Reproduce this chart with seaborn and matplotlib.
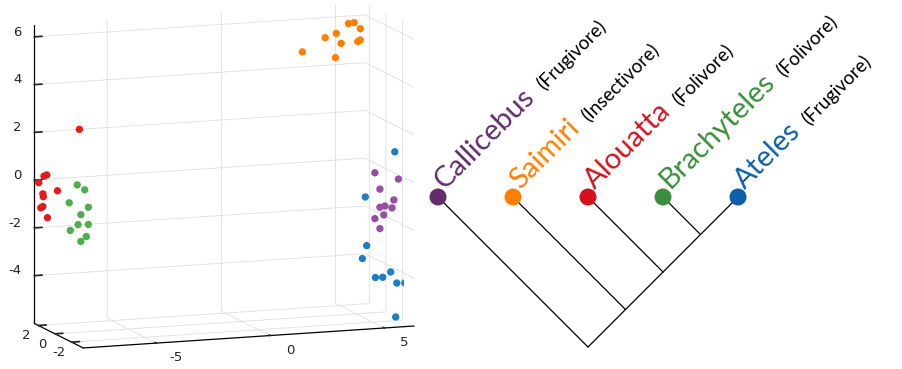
import matplotlib
matplotlib.use('Agg')
import numpy as np
import pandas as pd
import matplotlib.pyplot as plt
import seaborn as sns
from mpl_toolkits.mplot3d import proj3d

# Sample scores on the three components, one group per genus
alouatta_x = [-6.33, -7.76, -7.88, -8.11, -7.29, -7.93, -7.91, -7.93, -8.02, -7.73]
alouatta_y = [2.2] * 10
alouatta_z = [2.06, 0.24, 0.20, -0.06, -0.45, -0.54, -0.66, -1.07, -1.12, -1.55]

brachyteles_x = [-6.79, -6.46, -7.14, -6.30, -6.63, -6.75, -6.30, -7.09, -6.39, -6.63]
brachyteles_y = [1.2] * 10
brachyteles_z = [-0.06, -0.29, -0.79, -1.03, -1.32, -1.73, -1.75, -1.95, -2.25, -2.44]

saimiri_x = [2.82, 3.82, 4.31, 4.52, 4.27, 4.84, 5.09, 5.36, 5.25, 5.36]
saimiri_y = [0.5] * 10
saimiri_z = [5.02, 5.55, 5.70, 5.27, 4.69, 6.08, 6.10, 5.83, 5.30, 5.36]

callicebus_x = [5.09, 6.12, 5.31, 5.92, 5.31, 5.53, 5.84, 5.48, 5.09, 5.31]
callicebus_y = [-2.0] * 10
callicebus_z = [0.25, -0.08, -0.45, -0.94, -1.21, -1.17, -1.27, -1.54, -1.67, -2.10]

ateles_x = [5.67, 4.38, 4.44, 4.25, 5.49, 4.82, 5.14, 5.76, 6.11, 5.71]
ateles_y = [-2.8] * 10
ateles_z = [1.23, -0.58, -2.62, -3.15, -3.79, -3.98, -3.99, -4.27, -4.29, -5.69]

# Axis limits and ticks of the 3D panel
x_lim = (-8.2, 6.3)
y_lim = (-3.4, 2.5)
z_lim = (-6.0, 6.5)
x_ticks = [-5, 0, 5]
y_ticks = [-2, 0, 2]
z_ticks = [-4, -2, 0, 2, 4, 6]

# Scatter colours
scatter_colors = {
    'Alouatta': '#e41a1c',
    'Brachyteles': '#4daf4a',
    'Saimiri': '#ff7f00',
    'Callicebus': '#984ea3',
    'Ateles': '#1a7fc8',
}

# Cladogram: tip order, diets, colours and nested topology (tip indexes)
genera = ['Callicebus', 'Saimiri', 'Alouatta', 'Brachyteles', 'Ateles']
diets = ['(Frugivore)', '(Insectivore)', '(Folivore)', '(Folivore)', '(Frugivore)']
tip_colors = ['#632c6c', '#ff8000', '#d5121b', '#3b8e3b', '#0b5fa8']
tree = (0, (1, (2, (3, 4))))

sns.set_theme(style='white')
plt.rcParams['axes.unicode_minus'] = False
plt.rcParams['font.family'] = ['DejaVu Sans']

fig = plt.figure(figsize=(9.02, 3.69), dpi=100)

# ---- 3D scatter ----
ax3d = fig.add_axes([0.008, 0.011, 0.47, 1.0], projection='3d')
ax3d.set_facecolor('none')
ax3d.set_proj_type('ortho')
ax3d.view_init(elev=10.5, azim=-110)

groups = [
    ('Alouatta', alouatta_x, alouatta_y, alouatta_z),
    ('Brachyteles', brachyteles_x, brachyteles_y, brachyteles_z),
    ('Saimiri', saimiri_x, saimiri_y, saimiri_z),
    ('Callicebus', callicebus_x, callicebus_y, callicebus_z),
    ('Ateles', ateles_x, ateles_y, ateles_z),
]
for name, gx, gy, gz in groups:
    ax3d.scatter(gx, gy, gz, color=scatter_colors[name], s=28,
                 depthshade=False, edgecolors='none')

ax3d.set_xlim(*x_lim)
ax3d.set_ylim(*y_lim)
ax3d.set_zlim(*z_lim)
ax3d.set_box_aspect((x_lim[1] - x_lim[0], y_lim[1] - y_lim[0],
                     z_lim[1] - z_lim[0]), zoom=1.28)
ax3d.set_xticks(x_ticks)
ax3d.set_yticks(y_ticks)
ax3d.set_zticks(z_ticks)
for axis in (ax3d.xaxis, ax3d.yaxis, ax3d.zaxis):
    axis.set_tick_params(label1On=False, label2On=False)
    axis.label.set_visible(False)
    axis.get_offset_text().set_visible(False)
    axis.set_pane_color((1, 1, 1, 0))
    axis.pane.set_edgecolor('none')
    axis._axinfo['grid'].update(color='#dcdfe3', linewidth=0.6)
    axis._axinfo['tick'].update(inward_factor=0.0, outward_factor=0.3)
    axis.line.set_color('black')
    axis.line.set_linewidth(0.9)

# Tick labels offset along the neighbouring axis, MATLAB style:
# projected once with the axes' own matrix, then drawn as 2D text
fig.canvas.draw()
label_kw = dict(fontsize=9.5, color='#222222', va='center')


def tick_label(x, y, z, text, ha):
    px, py, _ = proj3d.proj_transform(x, y, z, ax3d.M)
    ax3d.text2D(px, py, text, transform=ax3d.transData, ha=ha, **label_kw)


for xt in x_ticks:
    tick_label(xt, y_lim[0] - 2.4, z_lim[0] - 0.2, str(xt), 'center')
for yt in y_ticks:
    tick_label(x_lim[0] - 0.55, yt, z_lim[0] - 0.4, str(yt), 'center')
for zt in z_ticks:
    tick_label(x_lim[0] - 0.1, y_lim[1] + 1.2, zt, str(zt), 'right')

# ---- Cladogram ----
ax = fig.add_axes([363 / 902, 7 / 369, 450 / 902, 330 / 369])
ax.set_xlim(-1, 5)
ax.set_ylim(-2.2, 2.2)
ax.axis('off')


def draw_clade(node):
    """Draws the branches below a node and returns (position, span)."""
    if isinstance(node, int):
        return (node, 0.0), (node, node)
    spans = []
    points = []
    for child in node:
        p, s = draw_clade(child)
        points.append(p)
        spans.append(s)
    lo, hi = spans[0][0], spans[-1][1]
    pos = ((lo + hi) / 2, -(hi - lo) / 2)
    for p in points:
        ax.plot([p[0], pos[0]], [p[1], pos[1]], color='black', lw=0.9,
                solid_capstyle='round', zorder=1)
    return pos, (lo, hi)


draw_clade(tree)

tips = pd.DataFrame({'genus': genera, 'x': range(len(genera)), 'y': 0.0})
sns.scatterplot(data=tips, x='x', y='y', hue='genus', palette=tip_colors,
                s=150, edgecolor='none', legend=False, ax=ax, zorder=3,
                clip_on=False)
ax.set_xlabel('')
ax.set_ylabel('')

# Rotated labels: genus name then diet
renderer = fig.canvas.get_renderer()
c45 = np.cos(np.pi / 4)
start = 10
gap = 10
for i, (genus, diet, col) in enumerate(zip(genera, diets, tip_colors)):
    t = ax.annotate(genus, xy=(i, 0), xytext=(start * c45, start * c45),
                    textcoords='offset pixels', ha='left', va='baseline',
                    fontsize=21, family='Lato', color=col,
                    rotation_mode='anchor', annotation_clip=False)
    w = t.get_window_extent(renderer).width
    t.set_rotation(45)
    d = start + w + gap
    ax.annotate(diet, xy=(i, 0), xytext=(d * c45, d * c45),
                textcoords='offset pixels', ha='left', va='baseline',
                fontsize=13.5, family='Lato', color='black', rotation=45,
                rotation_mode='anchor', annotation_clip=False)

plt.savefig('out.png', dpi=100)
